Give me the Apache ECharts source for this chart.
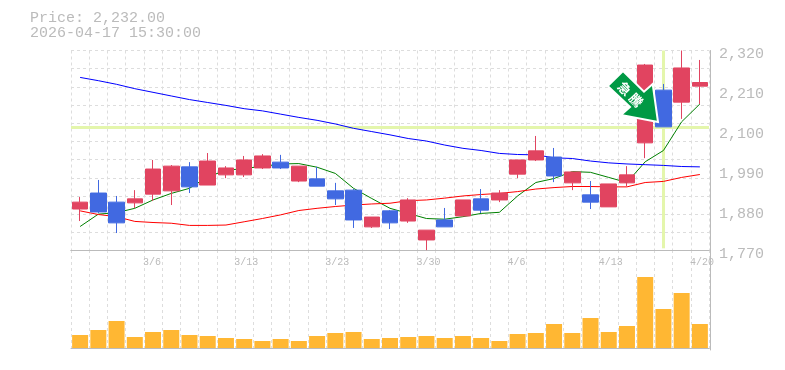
<!DOCTYPE html>
<html><head><meta charset="utf-8">
<style>html,body{margin:0;padding:0;background:#fff}#c{width:785px;height:370px}</style>
<script src="https://cdn.jsdelivr.net/npm/echarts@6/dist/echarts.min.js"></script>
</head><body><div id="c"></div>
<script>
const categories = ['2/27','3/2','3/3','3/4','3/6','3/9','3/10','3/11','3/12','3/13','3/16','3/17','3/18','3/19','3/23','3/24','3/25','3/26','3/27','3/30','3/31','4/1','4/2','4/3','4/6','4/7','4/8','4/9','4/10','4/13','4/14','4/15','4/16','4/17','4/20'];
const labelled = ['3/6','3/13','3/23','3/30','4/6','4/13','4/20'];
// open, close, low, high
const candles = [
 [1884,1903,1851,1917],[1928,1876,1873,1964],[1903,1846,1818,1920],[1901,1912,1887,1936],
 [1925,1994,1906,2019],[1934,2002,1895,2005],[2000,1945,1928,2013],[1950,2016,1950,2038],
 [1978,1997,1969,2002],[1978,2019,1972,2030],[1997,2030,1994,2035],[2013,1997,1994,2033],
 [1961,2002,1958,2002],[1967,1947,1947,2000],[1934,1912,1895,1956],[1936,1854,1832,1939],
 [1835,1862,1832,1862],[1879,1846,1829,1881],[1851,1909,1846,1914],[1799,1826,1771,1826],
 [1854,1835,1835,1887],[1865,1909,1865,1909],[1912,1881,1873,1939],[1909,1928,1903,1936],
 [1980,2019,1969,2019],[2019,2044,2016,2085],[2027,1975,1958,2052],[1956,1986,1936,1986],
 [1923,1903,1884,1961],[1890,1953,1890,1953],[1956,1978,1947,2002],[2066,2280,2024,2283],
 [2211,2110,2110,2228],[2178,2272,2132,2320],[2222,2232,2173,2294]
];
const ma5 = [1836,1870,1874,1886,1909,1927,1941,1973,1990,1996,2001,2008,2009,1999,1982,1941,1913,1886,1872,1858,1856,1863,1872,1875,1920,1957,1968,1987,1985,1971,1957,2014,2045,2124,2173];
const ma25 = [1879,1869,1863,1850,1847,1845,1839,1839,1840,1849,1858,1868,1880,1886,1891,1895,1898,1900,1907,1909,1914,1920,1924,1927,1932,1939,1943,1946,1946,1945,1945,1957,1960,1971,1979];
const ma75 = [2246,2237,2227,2215,2205,2195,2185,2177,2169,2160,2154,2145,2136,2128,2118,2106,2097,2088,2078,2071,2060,2051,2045,2037,2034,2033,2025,2023,2016,2011,2008,2006,2004,2001,2000];
const volumes = [130,180,270,110,160,180,130,120,100,90,70,90,70,120,150,160,90,100,110,120,100,120,100,70,140,150,240,150,300,160,220,710,390,550,240];
const priceTicks = [1770,1880,1990,2100,2210,2320];
const priceGrid = [1770,1820,1870,1920,1970,2020,2070,2120,2170,2220,2270,2320];
const markPrice = 2110;
const markCategory = '4/16';
const markFrom = 2320, markTo = 1776;
const headline = ['Price: 2,232.00','2026-04-17 15:30:00'];
const badge = ['急','騰'];

const GREY='#bbbbbb', DASH={color:'#dddddd',width:1,type:[3,3]}, MONO='"Liberation Mono",monospace';
const chart = echarts.init(document.getElementById('c'),null,{renderer:'canvas'});
const line=(name,data,color)=>({name,type:'line',data,xAxisIndex:0,yAxisIndex:0,symbol:'none',z:2,animation:false,silent:true,
  lineStyle:{color,width:1}});
chart.setOption({
  animation:false,backgroundColor:'#fff',
  title:{text:headline.join('\n'),left:30,top:11,padding:0,textStyle:{fontFamily:MONO,fontSize:15,fontWeight:'normal',color:GREY,lineHeight:15}},
  grid:[{left:71,width:638,top:50.5,height:200},{left:71,width:638,top:250,height:100}],
  xAxis:[
   {type:'category',gridIndex:0,data:categories,axisLine:{lineStyle:{color:GREY}},axisTick:{show:false},axisLabel:{show:false},
    splitLine:{show:true,interval:0,lineStyle:DASH}},
   {type:'category',gridIndex:1,data:categories,position:'bottom',axisLine:{lineStyle:{color:GREY}},axisTick:{show:false},axisLabel:{show:false},
    splitLine:{show:true,interval:0,lineStyle:DASH}},
   {type:'category',gridIndex:1,data:categories,position:'top',axisLine:{lineStyle:{color:GREY}},axisTick:{show:false},
    axisLabel:{show:true,inside:true,interval:i=>labelled.includes(categories[i]),hideOverlap:false,align:'left',padding:[0,0,0,-10],margin:7,fontFamily:MONO,fontSize:10,color:GREY},splitLine:{show:false}}
  ],
  yAxis:[
   {type:'value',gridIndex:0,position:'right',offset:1,min:1770,max:2320,
    axisLine:{show:true,lineStyle:{color:GREY}},
    axisTick:{show:false,customValues:priceGrid},
    axisLabel:{customValues:priceTicks,margin:9,verticalAlign:'top',lineHeight:8,fontFamily:MONO,fontSize:15,color:GREY,
      formatter:v=>v.toLocaleString('en-US')},
    splitLine:{show:true,lineStyle:DASH}},
   {type:'value',gridIndex:1,position:'right',offset:1,min:-20,max:980,
    axisLine:{show:true,lineStyle:{color:GREY}},axisTick:{show:false},axisLabel:{show:false},splitLine:{show:false}}
  ],
  series:[
   {name:'marks',type:'line',data:[],xAxisIndex:0,yAxisIndex:0,z:1,symbol:'none',silent:true,
    markLine:{silent:true,symbol:'none',animation:false,label:{show:false},
      lineStyle:{color:'#e4f6ac',width:3,type:'solid'},z:1,
      data:[{yAxis:markPrice},[{coord:[markCategory,markFrom]},{coord:[markCategory,markTo]}]]}},
   line('MA5',ma5,'#008000'),line('MA25',ma25,'#ff0000'),line('MA75',ma75,'#0000ff'),
   {name:'Price',type:'candlestick',data:candles,xAxisIndex:0,yAxisIndex:0,z:3,barWidth:16,silent:true,animation:false,
    itemStyle:{color:'#e14460',color0:'#4169e1',borderColor:'#e14460',borderColor0:'#4169e1',borderWidth:1}},
   {name:'Volume',type:'bar',data:volumes,xAxisIndex:1,yAxisIndex:1,barWidth:16,silent:true,animation:false,
    itemStyle:{color:'#ffb733'}}
  ],
  graphic:[
   {type:'polygon',z:100,shape:{points:[[623,71],[607.7,86],[630,107],[621,115],[658,122],[652.7,84],[644,91.7]]},
    style:{fill:'#009944',stroke:'#ffffff',lineWidth:2}},
   {type:'text',z:101,x:624.5,y:88.5,rotation:-Math.PI/4,
    style:{text:badge[0],fill:'#ffffff',font:'bold 13px "Noto Sans CJK JP"',align:'center',verticalAlign:'middle'}},
   {type:'text',z:101,x:636,y:100,rotation:-Math.PI/4,
    style:{text:badge[1],fill:'#ffffff',font:'bold 13px "Noto Sans CJK JP"',align:'center',verticalAlign:'middle'}}
  ]
});
</script></body></html>
